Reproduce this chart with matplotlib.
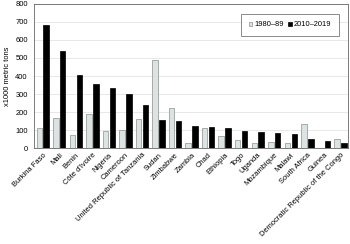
import numpy as np
import matplotlib
matplotlib.use("Agg")
import matplotlib.pyplot as plt

plt.rcParams['font.family'] = ['Liberation Sans', 'DejaVu Sans']

paises = ["Burkina Faso", "Mali", "Benin", "Côte d'Ivoire", "Nigeria", "Cameroon",
          "United Republic of Tanzania", "Sudan", "Zimbabwe", "Zambia", "Chad",
          "Ethiopia", "Togo", "Uganda", "Mozambique", "Malawi", "South Africa",
          "Guinea", "Democratic Republic of the Congo"]
v1980 = [110, 165, 70, 188, 97, 102, 160, 487, 222, 31, 111, 68, 46, 26, 33, 29, 133, 0, 48]
v2010 = [683, 540, 405, 357, 335, 300, 238, 157, 150, 124, 117, 111, 94, 89, 83, 81, 48, 40, 28]

fig = plt.figure(figsize=(3.5, 2.44), dpi=100)
ax = fig.add_axes([0.097, 0.393, 0.897, 0.591])

x = np.arange(len(paises))
w = 0.33
ax.bar(x - 0.21, v1980, w, color="#dde3e2", edgecolor="#8a8f8e", linewidth=0.5,
       label="1980\u201389", zorder=3)
ax.bar(x + 0.21, v2010, w, color="black", edgecolor="black", linewidth=0.5,
       label="2010\u20132019", zorder=3)

ax.set_xlim(-0.53, 18.45)
ax.set_ylim(0, 800)
ax.set_yticks(range(0, 801, 100))
ax.yaxis.grid(True, color="#e4e4e4", linewidth=0.6, zorder=0)
ax.set_xticks(x)
ax.set_xticklabels(paises, rotation=45, ha="right", rotation_mode="anchor", fontsize=5.4)
ax.tick_params(axis="y", labelsize=5.4, length=0, pad=4.5)
ax.tick_params(axis="x", length=0, pad=2.5)
ax.set_ylabel("x1000 metric tons", fontsize=5.4, labelpad=3)
for s in ax.spines.values():
    s.set_color("#666666")
    s.set_linewidth(0.6)

leg = ax.legend(loc="upper right", ncol=2, fontsize=5.4, frameon=True, fancybox=False,
                handlelength=0.45, handleheight=0.45, handletextpad=0.3, columnspacing=0.6,
                borderpad=1.0, borderaxespad=0, bbox_to_anchor=(0.971, 0.93))
leg.get_frame().set_edgecolor("#555555")
leg.get_frame().set_linewidth(0.6)

fig.savefig("out.png", dpi=100)
